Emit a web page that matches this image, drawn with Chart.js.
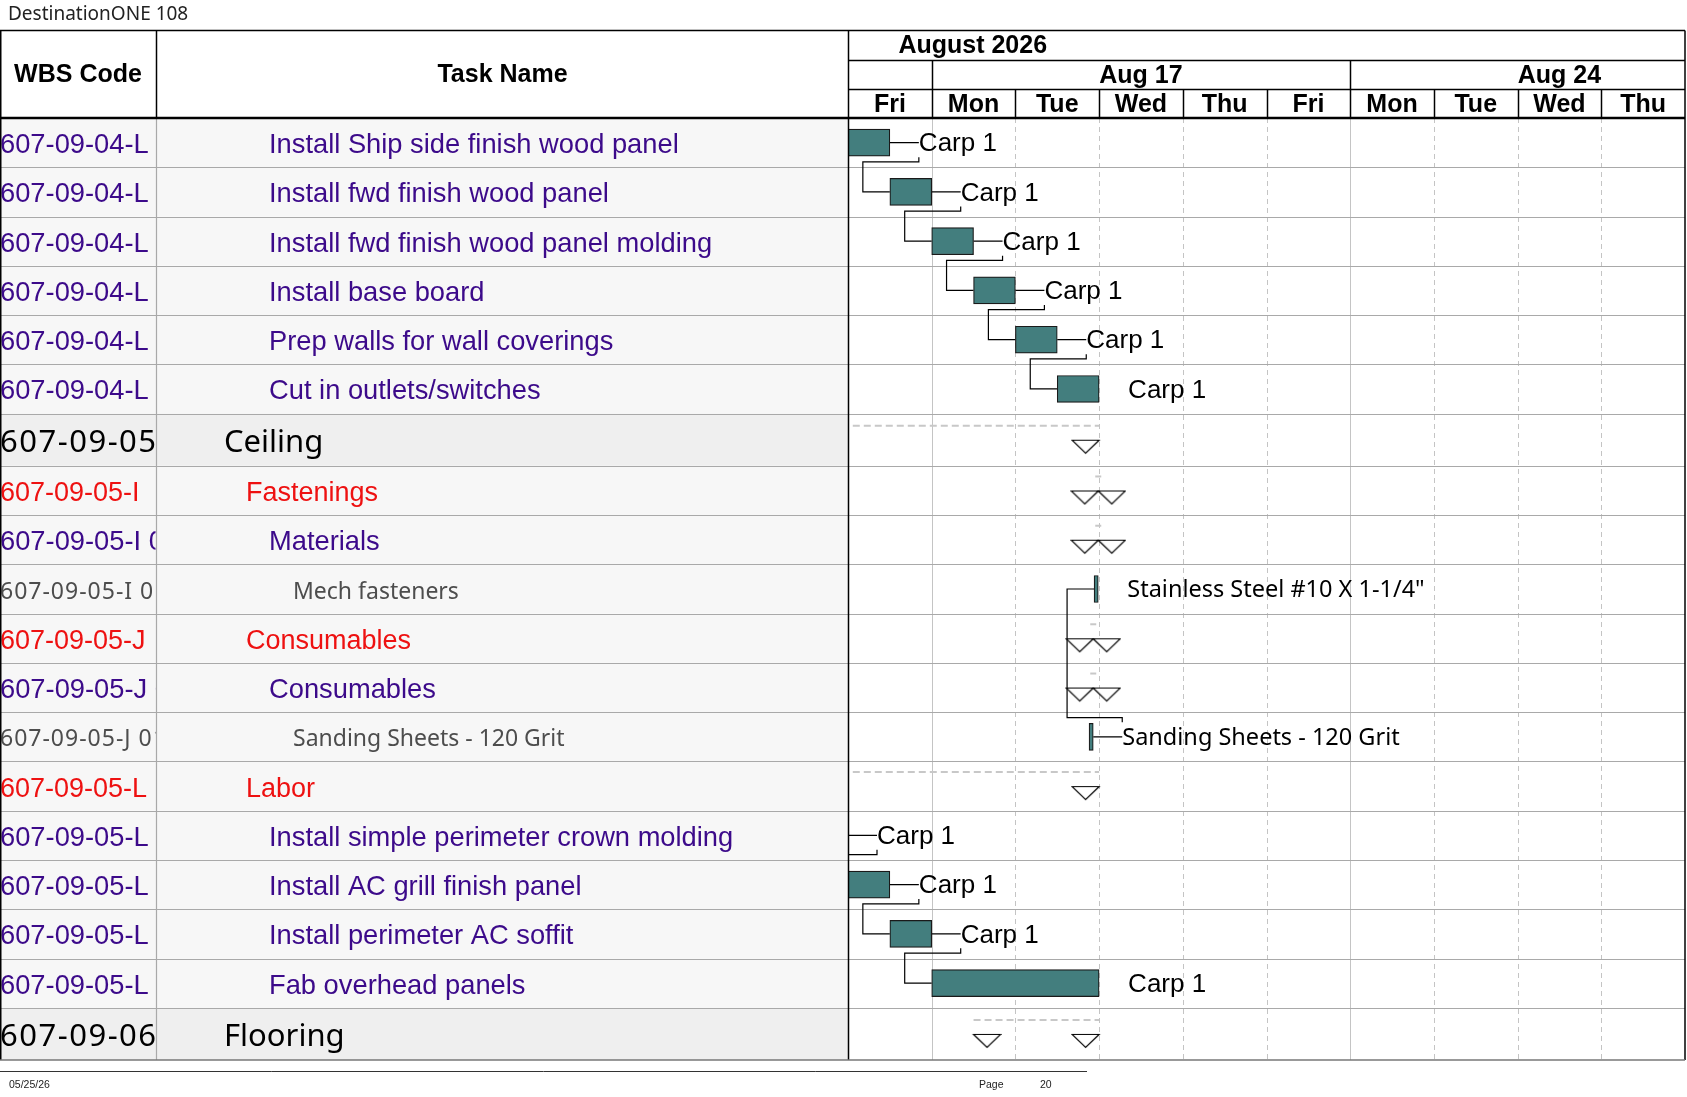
<!DOCTYPE html>
<html><head><meta charset="utf-8">
<script src="https://cdn.jsdelivr.net/npm/chart.js@4.4.1/dist/chart.umd.min.js"></script>
<style>html,body{margin:0;padding:0;background:#fff;overflow:hidden}canvas{display:block}</style>
</head><body>
<canvas id="c" width="1687" height="1097"></canvas>
<script>
// ---------------- DATA ----------------
const pageTitle = 'DestinationONE 108';
const monthLabel = 'August 2026';
const monthLabelAt = 1.49;              // working-day position of month caption
const dayLabels = ['Fri','Mon','Tue','Wed','Thu','Fri','Mon','Tue','Wed','Thu'];
const weekLabels = ['Aug 17','Aug 24'];
const weekStarts = [1, 6];
const headerWbs = 'WBS Code';
const headerTask = 'Task Name';
const wbsCodes = ['607-09-04-L','607-09-04-L','607-09-04-L','607-09-04-L','607-09-04-L','607-09-04-L',
  '607-09-05','607-09-05-I','607-09-05-I 01','607-09-05-I 0101','607-09-05-J','607-09-05-J 01','607-09-05-J 0101',
  '607-09-05-L','607-09-05-L','607-09-05-L','607-09-05-L','607-09-05-L','607-09-06'];
const taskNames = ['Install Ship side finish wood panel','Install fwd finish wood panel','Install fwd finish wood panel molding',
  'Install base board','Prep walls for wall coverings','Cut in outlets/switches','Ceiling','Fastenings','Materials',
  'Mech fasteners','Consumables','Consumables','Sanding Sheets - 120 Grit','Labor',
  'Install simple perimeter crown molding','Install AC grill finish panel','Install perimeter AC soffit','Fab overhead panels','Flooring'];
const rowLevels = ['task','task','task','task','task','task','summary','group','sub','item','group','sub','item','group',
  'task','task','task','task','summary'];
// start / finish in working days from Fri Aug 14
const taskStart  = [0, 0.5, 1, 1.5, 2, 2.5, -0.6, 2.99, 2.99, 2.94, 2.93, 2.93, 2.88, -0.6, -0.5, 0, 0.5, 1, 1.5];
const taskFinish = [0.5, 1, 1.5, 2, 2.5, 3, 3, 2.99, 2.99, 2.99, 2.93, 2.93, 2.93, 3, 0, 0.5, 1, 3, 3];
const resourceLabels = ['Carp 1','Carp 1','Carp 1','Carp 1','Carp 1','Carp 1','','','',
  'Stainless Steel #10 X 1-1/4"','','','Sanding Sheets - 120 Grit','','Carp 1','Carp 1','Carp 1','Carp 1',''];
const links = [[0,1],[1,2],[2,3],[3,4],[4,5],[12,9],[14,15],[15,16],[16,17]];
const footerDate = '05/25/26';
const footerPageWord = 'Page';
const footerPageNo = '20';

// ---------------- STYLE ----------------
const ARIAL = '"Liberation Sans", Arial, sans-serif';
const SEGOE = '"Noto Sans", "Open Sans", sans-serif';
const levelStyle = {
  task:    {font:'27.3px '+ARIAL, color:'#3C0A8A', indent:269, ls:'0px'},
  sub:     {font:'27.3px '+ARIAL, color:'#3C0A8A', indent:269, ls:'0px'},
  group:   {font:'27px '+ARIAL, color:'#EE1111', indent:246, ls:'0px'},
  item:    {font:'23px '+SEGOE, color:'#4d4d4d', indent:293, ls:'1px'},
  summary: {font:'31px '+SEGOE, color:'#000000', indent:224, ls:'1.5px'}
};
const rowUnit = rowLevels.map(l => l === 'summary' ? 1.06 : 1);
const rowStart = [];
rowUnit.reduce((acc,u,i)=>{ rowStart[i]=acc; return acc+u; }, 0);
const totalUnits = rowUnit.reduce((a,b)=>a+b,0);
const rowCenter = rowStart.map((s,i)=> s + rowUnit[i]/2);
const isBarRow = l => l === 'task' || l === 'item';
const BAR_FILL = '#437E7E';
const BAR_HALF = 13.5;

function marker(side){
  const c = document.createElement('canvas'); c.width = 56; c.height = 30;
  const g = c.getContext('2d');
  const x0 = side === 'finish' ? 1 : 28, x1 = x0 + 27;
  g.beginPath(); g.moveTo(x0, 15.5); g.lineTo(x1, 15.5); g.lineTo((x0+x1)/2, 28.5); g.closePath();
  g.fillStyle = '#fff'; g.fill(); g.strokeStyle = '#000'; g.lineWidth = 1.2; g.stroke();
  return c;
}

const barData = [], startMarks = [], finishMarks = [];
rowLevels.forEach((l,i)=>{
  if (isBarRow(l)) barData.push({x:[taskStart[i], taskFinish[i]], y:rowCenter[i]});
  else {
    if (taskStart[i] >= 0) startMarks.push({x:taskStart[i], y:rowCenter[i]});
    finishMarks.push({x:taskFinish[i], y:rowCenter[i]});
  }
});

const ganttPlugin = {
  id:'gantt',
  beforeDatasetsDraw(chart){
    const ctx = chart.ctx, xs = chart.scales.x, ys = chart.scales.y, a = chart.chartArea;
    const L = a.left, R = a.right, T = a.top, B = a.bottom;
    ctx.save();
    rowLevels.forEach((l,i)=>{
      const y0 = ys.getPixelForValue(rowStart[i]), y1 = ys.getPixelForValue(rowStart[i]+rowUnit[i]);
      ctx.fillStyle = l === 'summary' ? '#efefef' : '#f7f7f7';
      ctx.fillRect(0, y0, L, y1-y0);
    });
    for (let d = 1; d < dayLabels.length; d++){
      const px = Math.round(xs.getPixelForValue(d)) + 0.5;
      ctx.beginPath();
      ctx.setLineDash(weekStarts.includes(d) ? [] : [5,4]);
      ctx.strokeStyle = '#c4c4c4'; ctx.lineWidth = 1;
      ctx.moveTo(px, T); ctx.lineTo(px, B); ctx.stroke();
    }
    ctx.setLineDash([]);
    ctx.strokeStyle = '#a9a9a9'; ctx.lineWidth = 1.2;
    for (let i = 1; i < rowLevels.length; i++){
      const py = Math.round(ys.getPixelForValue(rowStart[i])) + 0.5;
      ctx.beginPath(); ctx.moveTo(0, py); ctx.lineTo(R, py); ctx.stroke();
    }
    ctx.beginPath(); ctx.moveTo(156.5, T); ctx.lineTo(156.5, B); ctx.stroke();
    ctx.beginPath(); ctx.rect(L+1, T, R-L-1, B-T); ctx.clip();
    ctx.strokeStyle = '#c8c8c8'; ctx.lineWidth = 2; ctx.setLineDash([7,4]);
    rowLevels.forEach((l,i)=>{
      if (isBarRow(l)) return;
      const yc = ys.getPixelForValue(rowCenter[i]) - 14;
      let x0 = xs.getPixelForValue(taskStart[i]), x1 = xs.getPixelForValue(taskFinish[i]);
      if (x1 - x0 < 6){ const m=(x0+x1)/2; x0 = m-3; x1 = m+3; }
      ctx.beginPath(); ctx.moveTo(x0, yc); ctx.lineTo(x1, yc); ctx.stroke();
    });
    ctx.setLineDash([]);
    ctx.strokeStyle = '#000'; ctx.lineWidth = 1.2;
    links.forEach(([p,s])=>{
      const xe = xs.getPixelForValue(taskFinish[p]), yp = ys.getPixelForValue(rowCenter[p]);
      const xsS = xs.getPixelForValue(taskStart[s]), ysS = ys.getPixelForValue(rowCenter[s]);
      const dir = ysS > yp ? 1 : -1;
      const ym = yp + dir*19.2;
      ctx.beginPath();
      ctx.moveTo(xe, yp); ctx.lineTo(xe+29, yp);
      ctx.moveTo(xe+29, yp + dir*(BAR_HALF+1)); ctx.lineTo(xe+29, ym);
      ctx.lineTo(xsS-27, ym); ctx.lineTo(xsS-27, ysS); ctx.lineTo(xsS, ysS);
      ctx.stroke();
    });
    ctx.restore();
  },
  afterDatasetsDraw(chart){
    const ctx = chart.ctx, xs = chart.scales.x, ys = chart.scales.y, a = chart.chartArea;
    const L = a.left, R = a.right, T = a.top, B = a.bottom;
    ctx.save();
    ctx.textBaseline = 'middle'; ctx.textAlign = 'left'; ctx.fillStyle = '#000';
    resourceLabels.forEach((t,i)=>{
      if (!t) return;
      ctx.font = rowLevels[i] === 'item' ? '23.5px '+SEGOE : '26px '+ARIAL;
      ctx.fillText(t, xs.getPixelForValue(taskFinish[i]) + 29, ys.getPixelForValue(rowCenter[i]) + 1.5);
    });
    rowLevels.forEach((l,i)=>{
      const st = levelStyle[l], yc = ys.getPixelForValue(rowCenter[i]) + 3;
      ctx.font = st.font; ctx.fillStyle = st.color;
      ctx.save(); ctx.beginPath(); ctx.rect(0, yc-30, 155.5, 60); ctx.clip();
      ctx.letterSpacing = st.ls;
      ctx.fillText(wbsCodes[i], 0, yc); ctx.restore();
      ctx.save(); ctx.beginPath(); ctx.rect(157, yc-30, L-158, 60); ctx.clip();
      ctx.letterSpacing = '0px';
      ctx.fillText(taskNames[i], st.indent, yc); ctx.restore();
    });
    const HT = 30.5, H1 = 60.5, H2 = 89.5;
    ctx.strokeStyle = '#000'; ctx.lineWidth = 1.5;
    const line = (x0,y0,x1,y1)=>{ ctx.beginPath(); ctx.moveTo(x0,y0); ctx.lineTo(x1,y1); ctx.stroke(); };
    line(0, HT, R, HT);
    line(L, H1, R, H1); line(L, H2, R, H2);
    line(0.75, HT, 0.75, B); line(156.5, HT, 156.5, T);
    line(L+0.5, HT, L+0.5, B); line(R, HT, R, B);
    weekStarts.forEach(w=>{ const px = Math.round(xs.getPixelForValue(w))+0.5; line(px, H1, px, H2); });
    for (let d = 1; d < dayLabels.length; d++){ const px = Math.round(xs.getPixelForValue(d))+0.5; line(px, H2, px, T); }
    ctx.lineWidth = 2.5; line(0, T, R, T);
    ctx.strokeStyle = '#777'; ctx.lineWidth = 1.5; line(0, B, R, B);
    ctx.fillStyle = '#000'; ctx.font = 'bold 25px '+ARIAL; ctx.textAlign = 'center';
    ctx.fillText(headerWbs, 78, 75); ctx.fillText(headerTask, (157+L)/2, 75);
    ctx.save(); ctx.beginPath(); ctx.rect(L, HT, R-L, T-HT); ctx.clip();
    ctx.fillText(monthLabel, xs.getPixelForValue(monthLabelAt), 46);
    weekLabels.forEach((w,k)=> ctx.fillText(w, xs.getPixelForValue(weekStarts[k]+2.5), 76));
    dayLabels.forEach((d,k)=> ctx.fillText(d, xs.getPixelForValue(k+0.5), 105));
    ctx.restore();
    ctx.textAlign = 'left'; ctx.font = '19px '+SEGOE; ctx.fillStyle = '#222';
    ctx.fillText(pageTitle, 8, 15);
    ctx.strokeStyle = '#333'; ctx.lineWidth = 1; line(0, 1071.5, 1087, 1071.5);
    ctx.font = '10.5px '+ARIAL; ctx.fillStyle = '#222';
    ctx.fillText(footerDate, 9, 1085); ctx.fillText(footerPageWord, 979, 1085); ctx.fillText(footerPageNo, 1040, 1085);
    ctx.restore();
  }
};

new Chart(document.getElementById('c'), {
  type:'bar',
  data:{ datasets:[
    {type:'bar', data:barData, backgroundColor:BAR_FILL, borderColor:'#1a1a1a', borderWidth:1.2,
     borderSkipped:false, barThickness:27, grouped:false},
    {type:'scatter', data:finishMarks, pointStyle:marker('finish'), pointRadius:10, showLine:false},
    {type:'scatter', data:startMarks, pointStyle:marker('start'), pointRadius:10, showLine:false}
  ]},
  options:{
    indexAxis:'y', responsive:false, animation:false, devicePixelRatio:1, events:[],
    layout:{autoPadding:false, padding:{left:848, right:2, top:118, bottom:37}},
    scales:{
      x:{type:'linear', min:0, max:dayLabels.length, display:false, offset:false},
      y:{type:'linear', min:0, max:totalUnits, reverse:true, display:false, offset:false}
    },
    plugins:{legend:{display:false}, tooltip:{enabled:false}}
  },
  plugins:[ganttPlugin]
});
</script>
</body></html>
